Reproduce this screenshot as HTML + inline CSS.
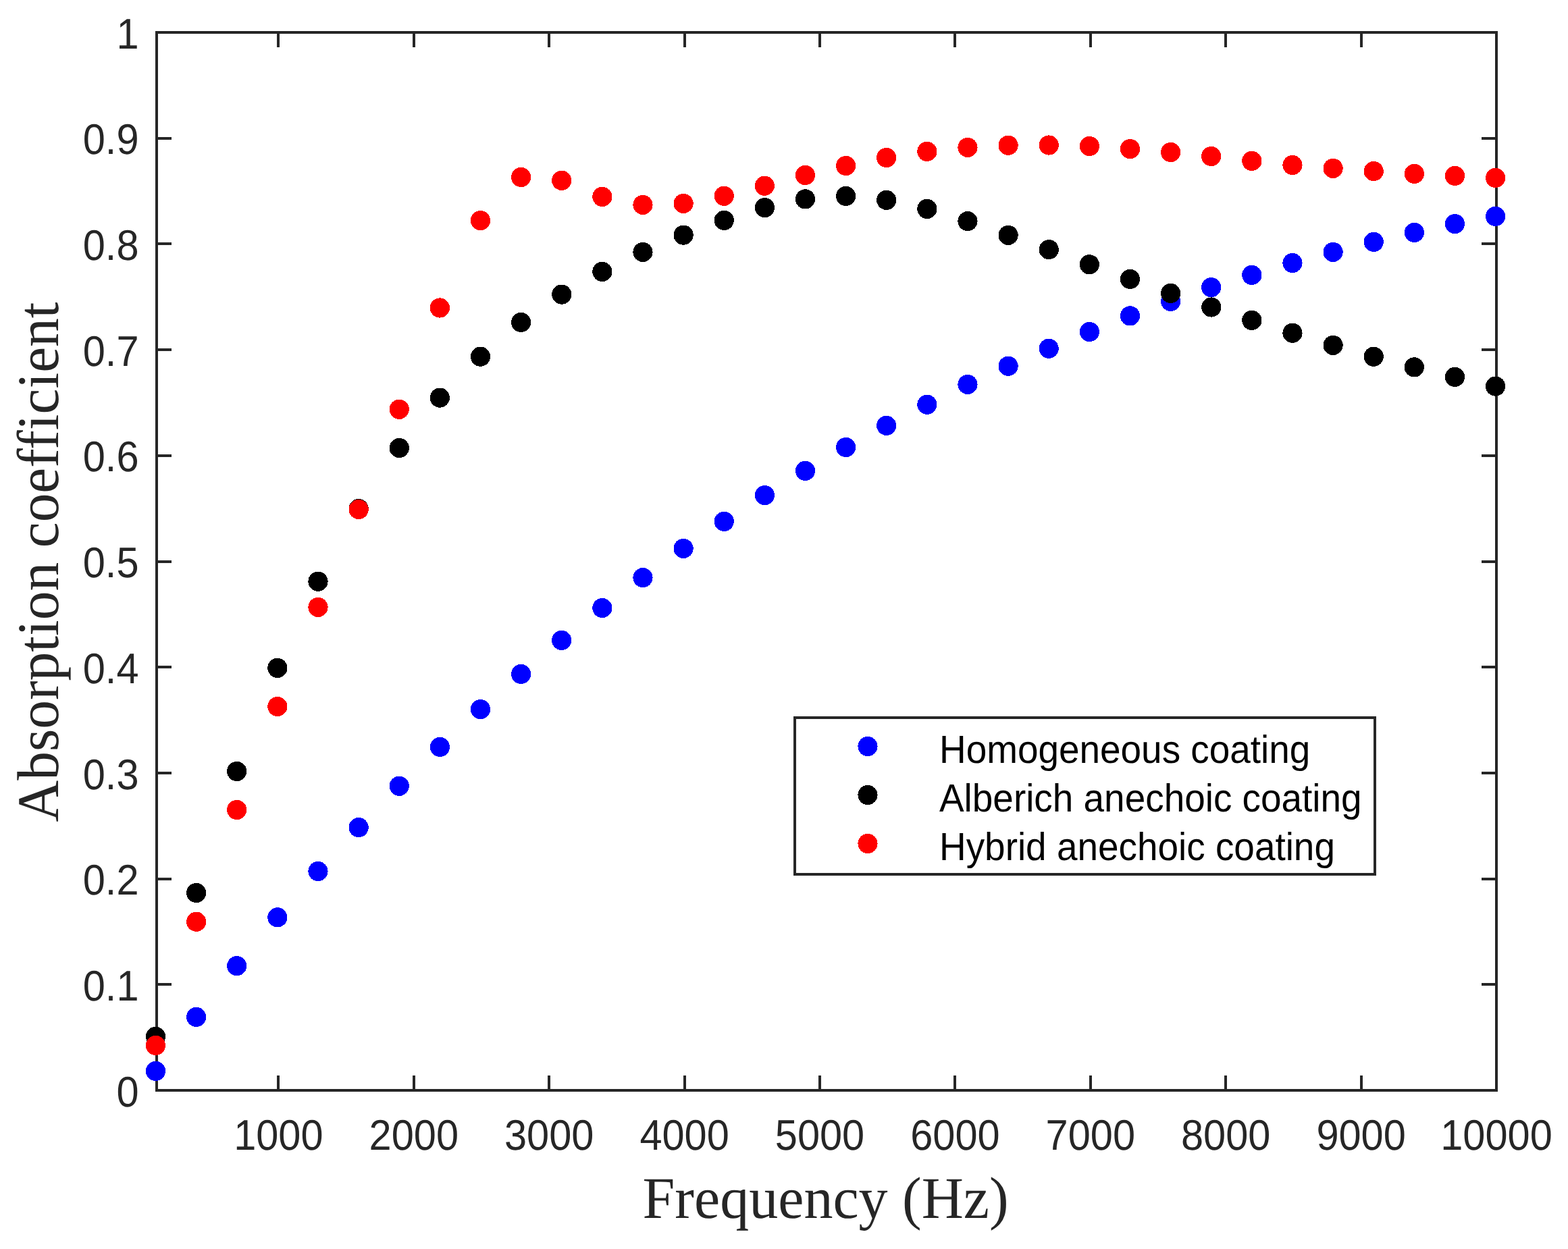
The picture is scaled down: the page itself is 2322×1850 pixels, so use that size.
<!DOCTYPE html><html><head><meta charset="utf-8"><title>Absorption coefficient vs Frequency</title><style>html,body{margin:0;padding:0;background:#fff;overflow:hidden}svg{display:block}text{text-rendering:geometricPrecision}</style></head><body>
<svg width="2322" height="1850" viewBox="0 0 2322 1850">
<rect width="2322" height="1850" fill="#fff"/>
<g stroke="#262626" stroke-width="4" fill="none" shape-rendering="crispEdges">
<rect x="232" y="48" width="1984" height="1567"/>
<path d="M232 1458.3h22M2216 1458.3h-22"/>
<path d="M232 1301.6h22M2216 1301.6h-22"/>
<path d="M232 1144.9h22M2216 1144.9h-22"/>
<path d="M232 988.2h22M2216 988.2h-22"/>
<path d="M232 831.5h22M2216 831.5h-22"/>
<path d="M232 674.8h22M2216 674.8h-22"/>
<path d="M232 518.1h22M2216 518.1h-22"/>
<path d="M232 361.4h22M2216 361.4h-22"/>
<path d="M232 204.7h22M2216 204.7h-22"/>
<path d="M412.36 1615v-22M412.36 48v22"/>
<path d="M612.77 1615v-22M612.77 48v22"/>
<path d="M813.17 1615v-22M813.17 48v22"/>
<path d="M1013.58 1615v-22M1013.58 48v22"/>
<path d="M1213.98 1615v-22M1213.98 48v22"/>
<path d="M1414.38 1615v-22M1414.38 48v22"/>
<path d="M1614.79 1615v-22M1614.79 48v22"/>
<path d="M1815.19 1615v-22M1815.19 48v22"/>
<path d="M2015.6 1615v-22M2015.6 48v22"/>
</g>
<g font-family="'Liberation Sans', Arial, Helvetica, sans-serif" font-size="63.5" fill="#262626">
<text transform="translate(205.5 1638.6) scale(0.9373 1)" text-anchor="end">0</text>
<text transform="translate(205.5 1481.9) scale(0.9373 1)" text-anchor="end">0.1</text>
<text transform="translate(205.5 1325.2) scale(0.9373 1)" text-anchor="end">0.2</text>
<text transform="translate(205.5 1168.5) scale(0.9373 1)" text-anchor="end">0.3</text>
<text transform="translate(205.5 1011.8) scale(0.9373 1)" text-anchor="end">0.4</text>
<text transform="translate(205.5 855.1) scale(0.9373 1)" text-anchor="end">0.5</text>
<text transform="translate(205.5 698.4) scale(0.9373 1)" text-anchor="end">0.6</text>
<text transform="translate(205.5 541.7) scale(0.9373 1)" text-anchor="end">0.7</text>
<text transform="translate(205.5 385) scale(0.9373 1)" text-anchor="end">0.8</text>
<text transform="translate(205.5 228.3) scale(0.9373 1)" text-anchor="end">0.9</text>
<text transform="translate(205.5 71.6) scale(0.9373 1)" text-anchor="end">1</text>
<text transform="translate(412.36 1702.9) scale(0.9373 1)" text-anchor="middle">1000</text>
<text transform="translate(612.77 1702.9) scale(0.9373 1)" text-anchor="middle">2000</text>
<text transform="translate(813.17 1702.9) scale(0.9373 1)" text-anchor="middle">3000</text>
<text transform="translate(1013.58 1702.9) scale(0.9373 1)" text-anchor="middle">4000</text>
<text transform="translate(1213.98 1702.9) scale(0.9373 1)" text-anchor="middle">5000</text>
<text transform="translate(1414.38 1702.9) scale(0.9373 1)" text-anchor="middle">6000</text>
<text transform="translate(1614.79 1702.9) scale(0.9373 1)" text-anchor="middle">7000</text>
<text transform="translate(1815.19 1702.9) scale(0.9373 1)" text-anchor="middle">8000</text>
<text transform="translate(2015.6 1702.9) scale(0.9373 1)" text-anchor="middle">9000</text>
<text transform="translate(2216 1702.9) scale(0.9373 1)" text-anchor="middle">10000</text>
</g>
<text transform="translate(1222.6 1803.6) scale(0.983 1)" text-anchor="middle" font-family="'Liberation Serif', 'Times New Roman', Times, serif" font-size="87.5" fill="#262626">Frequency (Hz)</text>
<text transform="translate(85.8 832.4) rotate(-90) scale(0.977 1)" text-anchor="middle" font-family="'Liberation Serif', 'Times New Roman', Times, serif" font-size="87.5" fill="#262626">Absorption coefficient</text>
<g fill="#0000ff" shape-rendering="crispEdges">
<circle cx="230.5" cy="1586.4" r="14.6"/>
<circle cx="290.62" cy="1506.3" r="14.6"/>
<circle cx="350.75" cy="1430.7" r="14.6"/>
<circle cx="410.87" cy="1358.8" r="14.6"/>
<circle cx="471" cy="1290.5" r="14.6"/>
<circle cx="531.12" cy="1225.6" r="14.6"/>
<circle cx="591.24" cy="1164.3" r="14.6"/>
<circle cx="651.37" cy="1106.4" r="14.6"/>
<circle cx="711.49" cy="1050.6" r="14.6"/>
<circle cx="771.62" cy="998.4" r="14.6"/>
<circle cx="831.74" cy="948.4" r="14.6"/>
<circle cx="891.86" cy="900.5" r="14.6"/>
<circle cx="951.99" cy="855.6" r="14.6"/>
<circle cx="1012.11" cy="812.4" r="14.6"/>
<circle cx="1072.24" cy="772.4" r="14.6"/>
<circle cx="1132.36" cy="733.6" r="14.6"/>
<circle cx="1192.48" cy="697.3" r="14.6"/>
<circle cx="1252.61" cy="662.5" r="14.6"/>
<circle cx="1312.73" cy="630.3" r="14.6"/>
<circle cx="1372.86" cy="599.3" r="14.6"/>
<circle cx="1432.98" cy="569.4" r="14.6"/>
<circle cx="1493.1" cy="542.3" r="14.6"/>
<circle cx="1553.23" cy="516.3" r="14.6"/>
<circle cx="1613.35" cy="491.5" r="14.6"/>
<circle cx="1673.48" cy="467.9" r="14.6"/>
<circle cx="1733.6" cy="446.3" r="14.6"/>
<circle cx="1793.72" cy="425.7" r="14.6"/>
<circle cx="1853.85" cy="407.4" r="14.6"/>
<circle cx="1913.97" cy="389.5" r="14.6"/>
<circle cx="1974.1" cy="373.4" r="14.6"/>
<circle cx="2034.22" cy="358.4" r="14.6"/>
<circle cx="2094.34" cy="344.4" r="14.6"/>
<circle cx="2154.47" cy="331.6" r="14.6"/>
<circle cx="2214.59" cy="320.4" r="14.6"/>
</g>
<g fill="#000000" shape-rendering="crispEdges">
<circle cx="230.5" cy="1535.3" r="14.6"/>
<circle cx="290.62" cy="1322.5" r="14.6"/>
<circle cx="350.75" cy="1142.5" r="14.6"/>
<circle cx="410.87" cy="989.4" r="14.6"/>
<circle cx="471" cy="861.2" r="14.6"/>
<circle cx="531.12" cy="753.5" r="14.6"/>
<circle cx="591.24" cy="663.5" r="14.6"/>
<circle cx="651.37" cy="589.1" r="14.6"/>
<circle cx="711.49" cy="528.2" r="14.6"/>
<circle cx="771.62" cy="477.4" r="14.6"/>
<circle cx="831.74" cy="436.1" r="14.6"/>
<circle cx="891.86" cy="402.4" r="14.6"/>
<circle cx="951.99" cy="373.4" r="14.6"/>
<circle cx="1012.11" cy="348.1" r="14.6"/>
<circle cx="1072.24" cy="326.4" r="14.6"/>
<circle cx="1132.36" cy="307.6" r="14.6"/>
<circle cx="1192.48" cy="294.9" r="14.6"/>
<circle cx="1252.61" cy="290.4" r="14.6"/>
<circle cx="1312.73" cy="296.3" r="14.6"/>
<circle cx="1372.86" cy="309.4" r="14.6"/>
<circle cx="1432.98" cy="327.6" r="14.6"/>
<circle cx="1493.1" cy="348.4" r="14.6"/>
<circle cx="1553.23" cy="369.6" r="14.6"/>
<circle cx="1613.35" cy="391.8" r="14.6"/>
<circle cx="1673.48" cy="413.4" r="14.6"/>
<circle cx="1733.6" cy="434.3" r="14.6"/>
<circle cx="1793.72" cy="455" r="14.6"/>
<circle cx="1853.85" cy="474.4" r="14.6"/>
<circle cx="1913.97" cy="493.3" r="14.6"/>
<circle cx="1974.1" cy="511.4" r="14.6"/>
<circle cx="2034.22" cy="528.3" r="14.6"/>
<circle cx="2094.34" cy="543.9" r="14.6"/>
<circle cx="2154.47" cy="558.3" r="14.6"/>
<circle cx="2214.59" cy="572.1" r="14.6"/>
</g>
<g fill="#ff0000" shape-rendering="crispEdges">
<circle cx="230.5" cy="1548.5" r="14.6"/>
<circle cx="290.62" cy="1365.2" r="14.6"/>
<circle cx="350.75" cy="1199.5" r="14.6"/>
<circle cx="410.87" cy="1046.5" r="14.6"/>
<circle cx="471" cy="899.4" r="14.6"/>
<circle cx="531.12" cy="754.5" r="14.6"/>
<circle cx="591.24" cy="606.3" r="14.6"/>
<circle cx="651.37" cy="456" r="14.6"/>
<circle cx="711.49" cy="326.6" r="14.6"/>
<circle cx="771.62" cy="262.5" r="14.6"/>
<circle cx="831.74" cy="267.3" r="14.6"/>
<circle cx="891.86" cy="291.4" r="14.6"/>
<circle cx="951.99" cy="303.4" r="14.6"/>
<circle cx="1012.11" cy="301.4" r="14.6"/>
<circle cx="1072.24" cy="290.3" r="14.6"/>
<circle cx="1132.36" cy="275.2" r="14.6"/>
<circle cx="1192.48" cy="259.5" r="14.6"/>
<circle cx="1252.61" cy="245.5" r="14.6"/>
<circle cx="1312.73" cy="233.5" r="14.6"/>
<circle cx="1372.86" cy="224.4" r="14.6"/>
<circle cx="1432.98" cy="218.4" r="14.6"/>
<circle cx="1493.1" cy="215.3" r="14.6"/>
<circle cx="1553.23" cy="215" r="14.6"/>
<circle cx="1613.35" cy="216.5" r="14.6"/>
<circle cx="1673.48" cy="220.6" r="14.6"/>
<circle cx="1733.6" cy="225.5" r="14.6"/>
<circle cx="1793.72" cy="231.5" r="14.6"/>
<circle cx="1853.85" cy="238.4" r="14.6"/>
<circle cx="1913.97" cy="244.5" r="14.6"/>
<circle cx="1974.1" cy="249.4" r="14.6"/>
<circle cx="2034.22" cy="253.6" r="14.6"/>
<circle cx="2094.34" cy="257.4" r="14.6"/>
<circle cx="2154.47" cy="260.4" r="14.6"/>
<circle cx="2214.59" cy="263.4" r="14.6"/>
</g>
<rect x="1177" y="1063" width="859" height="232" fill="#fff" stroke="#262626" stroke-width="4" shape-rendering="crispEdges"/>
<circle cx="1285" cy="1105.5" r="14.6" fill="#0000ff" shape-rendering="crispEdges"/>
<text transform="translate(1391 1130.1) scale(0.945 1)" font-family="'Liberation Sans', Arial, Helvetica, sans-serif" font-size="58.1" fill="#000">Homogeneous coating</text>
<circle cx="1285" cy="1177.5" r="14.6" fill="#000000" shape-rendering="crispEdges"/>
<text transform="translate(1391 1202.1) scale(0.945 1)" font-family="'Liberation Sans', Arial, Helvetica, sans-serif" font-size="58.1" fill="#000">Alberich anechoic coating</text>
<circle cx="1285" cy="1249.5" r="14.6" fill="#ff0000" shape-rendering="crispEdges"/>
<text transform="translate(1391 1274.1) scale(0.945 1)" font-family="'Liberation Sans', Arial, Helvetica, sans-serif" font-size="58.1" fill="#000">Hybrid anechoic coating</text>
</svg></body></html>
